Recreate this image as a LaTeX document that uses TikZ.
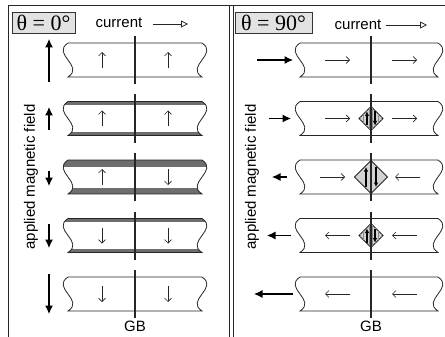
\documentclass[tikz,border=0pt]{standalone}
\usepackage{fontspec}
\setmainfont{Liberation Sans}
\newfontfamily\thetafont{Liberation Serif}
\usetikzlibrary{arrows.meta,patterns}
\definecolor{bandgray}{HTML}{6E6E6E}
\definecolor{boxgray}{HTML}{E2E2E2}
\definecolor{diagray}{HTML}{D2D2D2}
\newcommand\gbstripshape[3]{(#1,#3-17) -- (#2,#3-17) .. controls (#2+17,#3-6) and (#2-17,#3+6) .. (#2,#3+17) -- (#1,#3+17) .. controls (#1+17,#3+6) and (#1-17,#3-6) .. (#1,#3-17) -- cycle}
\newcommand\gbstrip[4]{%
  \begin{scope}
    \path[clip] \gbstripshape{#1}{#2}{#3};
    \fill[white] (#1-10,#3-17) rectangle (#2+10,#3+17);
    \ifdim #4pt>0pt
      \fill[bandgray] (#1-10,#3-17) rectangle (#2+10,#3-17+#4);
      \fill[bandgray] (#1-10,#3+17-#4) rectangle (#2+10,#3+17);
    \fi
  \end{scope}
  \draw[stripline] \gbstripshape{#1}{#2}{#3};
}
\begin{document}
\begin{tikzpicture}[x=1pt,y=-1pt,
  frame/.style={line width=0.9pt, draw=black!85},
  thetabox/.style={draw=black!80, line width=0.8pt, fill=boxgray, minimum height=21pt, inner sep=0pt, font=\thetafont\fontsize{22}{22}\selectfont},
  label/.style={font=\fontsize{15}{15}\selectfont, inner sep=0pt},
  stripline/.style={line width=0.8pt, draw=black!85},
  gbline/.style={line width=2pt, draw=black!85},
  inarrow/.style={line width=0.6pt, draw=black!85, -{Straight Barb[length=3.5pt,width=7pt]}},
  fieldarrow/.style={line width=1.1pt, draw=black, -{Latex[length=8.5pt,width=8pt]}},
  curarrow/.style={line width=0.8pt, draw=black!85, -{Triangle[open,length=7pt,width=7pt]}},
  diaarrow/.style={line width=1.4pt, draw=black, -{Latex[length=4.5pt,width=4.5pt]}},
  diamondshape/.style={draw=black!85, line width=0.8pt, fill=diagray}
]
\useasboundingbox (0,0) rectangle (445,337);
% frame
\draw[frame] (8,337) -- (8,5) -- (445,5);
\draw[frame] (229.5,5) -- (229.5,337);
\draw[frame] (233.3,5) -- (233.3,337);

% titles
\node[thetabox, minimum width=63pt] (t0) at (43.5,22.5) {θ = 0°};
\node[thetabox, minimum width=77pt] (t90) at (273.5,22.5) {θ = 90°};
\node[label] (cur0) at (119,23) {current};
\node[label] (cur90) at (358,25) {current};
\coordinate (c0a) at (153,24); \coordinate (c0b) at (188,24);
\coordinate (c90a) at (386,25); \coordinate (c90b) at (427,25);
\draw[curarrow] (c0a) -- (c0b);
\draw[curarrow] (c90a) -- (c90b);

\node[label, rotate=90] (amf0) at (31,177) {applied magnetic field};
\node[label, rotate=90] (amf90) at (252,177) {applied magnetic field};

% ---------- left panel strips ----------
\gbstrip{68}{202}{60}{0}
\gbstrip{68}{202}{118.5}{3.5}
\gbstrip{68}{202}{177}{6.5}
\gbstrip{68}{202}{235.5}{3.5}
\gbstrip{68}{202}{294}{0}
\foreach \yc in {60,118.5,177,235.5,294}{
  \draw[gbline] (135,\yc-24) -- (135,\yc+24);
}
% inner arrows left
\foreach \yc in {60,118.5}{
  \draw[inarrow] (102,\yc+8) -- (102,\yc-8);
  \draw[inarrow] (168,\yc+8) -- (168,\yc-8);
}
\draw[inarrow] (102,185) -- (102,169);
\draw[inarrow] (168,169) -- (168,185);
\foreach \yc in {235.5,294}{
  \draw[inarrow] (102,\yc-8) -- (102,\yc+8);
  \draw[inarrow] (168,\yc-8) -- (168,\yc+8);
}
% field arrows left
\coordinate (fl1a) at (49,82);  \coordinate (fl1b) at (49,39);
\coordinate (fl2a) at (49,130); \coordinate (fl2b) at (49,107);
\coordinate (fl3a) at (49,171); \coordinate (fl3b) at (49,186);
\coordinate (fl4a) at (49,224); \coordinate (fl4b) at (49,248);
\coordinate (fl5a) at (49,274); \coordinate (fl5b) at (49,314);
\foreach \i in {1,...,5}{\draw[fieldarrow] (fl\i a) -- (fl\i b);}
\node[label] (gb0) at (135,326) {GB};

% ---------- right panel strips ----------
\foreach \yc in {60,118.5,177,235.5,294}{
  \gbstrip{300}{438}{\yc}{0}
}
\foreach \yc in {60,118.5,177,235.5,294}{
  \draw[gbline] (371,\yc-24) -- (371,\yc+24);
}
% diamonds
\path[diamondshape] (371,106.5) -- (383,118.5) -- (371,130.5) -- (359,118.5) -- cycle;
\path[pattern=vertical lines, pattern color=black!45] (371,106.5) -- (383,118.5) -- (371,130.5) -- (359,118.5) -- cycle;
\path[diamondshape] (371,160.5) -- (387.5,177) -- (371,193.5) -- (354.5,177) -- cycle;
\path[diamondshape] (371,223.5) -- (383,235.5) -- (371,247.5) -- (359,235.5) -- cycle;
\path[pattern=vertical lines, pattern color=black!45] (371,223.5) -- (383,235.5) -- (371,247.5) -- (359,235.5) -- cycle;
\draw[gbline] (371,102) -- (371,135);
\draw[gbline] (371,160) -- (371,194);
\draw[gbline] (371,219) -- (371,252);
\foreach \yc in {118.5,235.5}{
  \draw[diaarrow] (367,\yc+7) -- (367,\yc-7);
  \draw[diaarrow] (375,\yc-7) -- (375,\yc+7);
}
\draw[diaarrow] (366,187) -- (366,167);
\draw[diaarrow] (376,167) -- (376,187);
% inner arrows right
\foreach \yc in {60,118.5}{
  \draw[inarrow] (325,\yc) -- (350,\yc);
  \draw[inarrow] (392,\yc) -- (417,\yc);
}
\draw[inarrow] (320,177) -- (345,177);
\draw[inarrow] (420,177) -- (395,177);
\foreach \yc in {235.5,294}{
  \draw[inarrow] (350,\yc) -- (325,\yc);
  \draw[inarrow] (417,\yc) -- (392,\yc);
}
% field arrows right
\coordinate (fr1a) at (257,60);    \coordinate (fr1b) at (293,60);
\coordinate (fr2a) at (269,118.5); \coordinate (fr2b) at (291,118.5);
\coordinate (fr3a) at (287,177);   \coordinate (fr3b) at (272,177);
\coordinate (fr4a) at (291,235.5); \coordinate (fr4b) at (267,235.5);
\coordinate (fr5a) at (293,294);   \coordinate (fr5b) at (254,294);
\foreach \i in {1,...,5}{\draw[fieldarrow] (fr\i a) -- (fr\i b);}
\node[label] (gb90) at (371,326) {GB};
\end{tikzpicture}
\end{document}
